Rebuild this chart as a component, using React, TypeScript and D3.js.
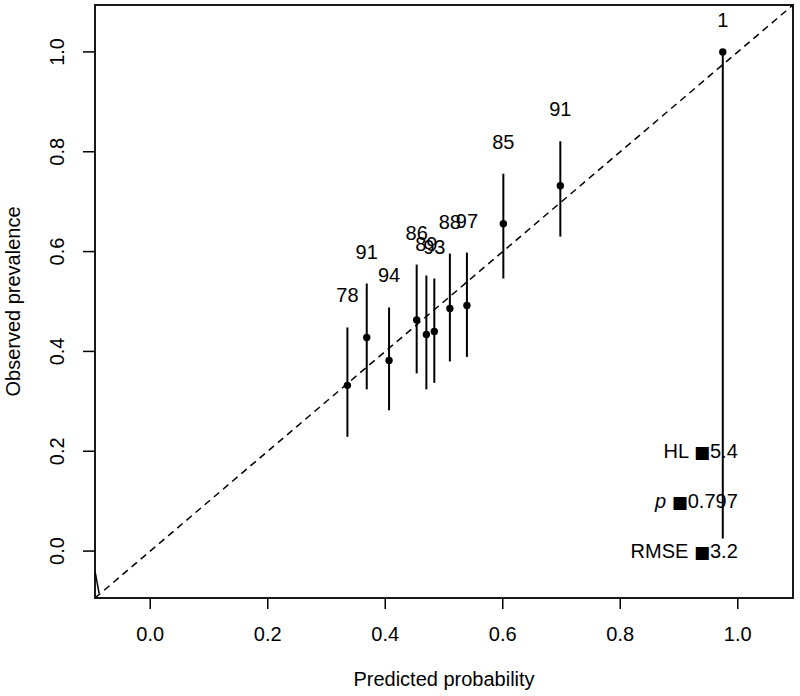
import React from "react";
import * as d3 from "d3";

// ---- data ----
const predicted = [0.3356, 0.3685, 0.4065, 0.4535, 0.47, 0.4835, 0.51, 0.539, 0.601, 0.698, 0.9745];
const observed = [0.332, 0.428, 0.382, 0.463, 0.434, 0.44, 0.486, 0.492, 0.656, 0.732, 1.0];
const lower = [0.229, 0.324, 0.282, 0.356, 0.324, 0.337, 0.38, 0.389, 0.546, 0.63, 0.025];
const upper = [0.448, 0.536, 0.488, 0.574, 0.552, 0.546, 0.596, 0.598, 0.756, 0.821, 1.0];
const counts = ["78", "91", "94", "86", "89", "93", "88", "97", "85", "91", "1"];

const xTicks = [0, 0.2, 0.4, 0.6, 0.8, 1.0];
const yTicks = [0, 0.2, 0.4, 0.6, 0.8, 1.0];

const smoothX = [-0.094, -0.087];
const smoothY = [-0.04, -0.085];

const statNames = ["HL", "p", "RMSE"];
const statValues = ["5.4", "0.797", "3.2"];
const statY = [0.2, 0.1, 0.0];
const statItalic = [false, true, false];

const xTitle = "Predicted probability";
const yTitle = "Observed prevalence";

// ---- layout ----
const W = 800;
const H = 696;
const left = 95, right = 793, top = 5, bottom = 598;
const domain: [number, number] = [-0.094, 1.094];
const FONT = "'Liberation Sans', Arial, sans-serif";
const FS = 20;

export default function App() {
  const x = d3.scaleLinear().domain(domain).range([left, right]);
  const y = d3.scaleLinear().domain(domain).range([bottom, top]);
  const fmt = d3.format(".1f");

  const smoothLine = d3
    .line<number>()
    .x((_, i) => x(smoothX[i]))
    .y((d) => y(d));

  return (
    <svg
      width={W}
      height={H}
      style={{ position: "absolute", left: 0, top: 0, background: "#fff" }}
      fontFamily={FONT}
    >
      <rect x={0} y={0} width={W} height={H} fill="#fff" />
      <defs>
        <clipPath id="plotclip">
          <rect x={left} y={top} width={right - left} height={bottom - top} />
        </clipPath>
      </defs>

      {/* diagonal reference line */}
      <g clipPath="url(#plotclip)">
        <line
          x1={x(domain[0])}
          y1={y(domain[0])}
          x2={x(domain[1])}
          y2={y(domain[1])}
          stroke="#000"
          strokeWidth={1.5}
          strokeDasharray="7 5"
        />
        <path d={smoothLine(smoothY) || ""} fill="none" stroke="#000" strokeWidth={1.5} />
      </g>

      {/* CI bars */}
      {predicted.map((p, i) => (
        <line
          key={"ci" + i}
          x1={x(p)}
          x2={x(p)}
          y1={y(lower[i])}
          y2={y(upper[i])}
          stroke="#000"
          strokeWidth={2}
        />
      ))}
      {/* points */}
      {predicted.map((p, i) => (
        <circle key={"pt" + i} cx={x(p)} cy={y(observed[i])} r={3.7} fill="#000" />
      ))}
      {/* count labels */}
      {predicted.map((p, i) => (
        <text
          key={"lb" + i}
          x={x(p)}
          y={y(upper[i]) - 32}
          dy="0.35em"
          textAnchor="middle"
          fontSize={FS}
          fill="#000"
        >
          {counts[i]}
        </text>
      ))}

      {/* stats text */}
      {statNames.map((n, i) => (
        <text
          key={"st" + i}
          x={x(1.0)}
          y={y(statY[i])}
          dy="0.35em"
          textAnchor="end"
          fontSize={FS}
          fill="#000"
        >
          <tspan fontStyle={statItalic[i] ? "italic" : "normal"}>{n} </tspan>
          <tspan fontFamily="'DejaVu Sans'" fontSize={17}>■</tspan>
          <tspan>{statValues[i]}</tspan>
        </text>
      ))}

      {/* box */}
      <rect
        x={left}
        y={top}
        width={right - left}
        height={bottom - top}
        fill="none"
        stroke="#000"
        strokeWidth={1.8}
      />

      {/* x axis */}
      {xTicks.map((t) => (
        <g key={"xt" + t}>
          <line x1={x(t)} x2={x(t)} y1={bottom} y2={bottom + 11} stroke="#000" strokeWidth={1.5} />
          <text x={x(t)} y={bottom + 43} textAnchor="middle" fontSize={FS} fill="#000">
            {fmt(t)}
          </text>
        </g>
      ))}
      {/* y axis */}
      {yTicks.map((t) => (
        <g key={"yt" + t}>
          <line x1={left - 12} x2={left} y1={y(t)} y2={y(t)} stroke="#000" strokeWidth={1.5} />
          <text
            transform={`translate(${left - 31},${y(t)}) rotate(-90)`}
            textAnchor="middle"
            fontSize={FS}
            fill="#000"
          >
            {fmt(t)}
          </text>
        </g>
      ))}

      {/* titles */}
      <text x={(left + right) / 2} y={686} textAnchor="middle" fontSize={FS} fill="#000">
        {xTitle}
      </text>
      <text
        transform={`translate(20,${(top + bottom) / 2}) rotate(-90)`}
        textAnchor="middle"
        fontSize={FS}
        fill="#000"
      >
        {yTitle}
      </text>
    </svg>
  );
}
